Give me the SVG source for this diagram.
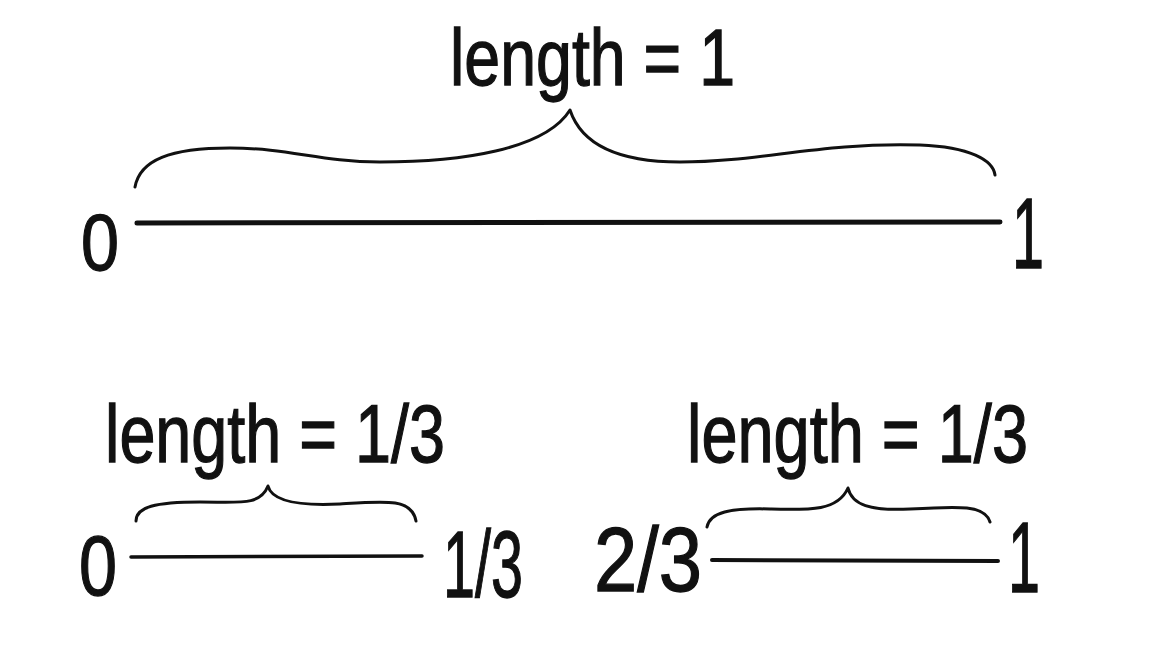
<svg xmlns="http://www.w3.org/2000/svg" width="1152" height="651" viewBox="0 0 1152 651">
<style>
.t{font-family:"Liberation Sans","DejaVu Sans",sans-serif;fill:#111;stroke:#111;stroke-width:1.3;}
.br{fill:none;stroke:#111;stroke-width:3;stroke-linecap:round;stroke-linejoin:round;}
.ln{fill:none;stroke:#111;stroke-linecap:round;}
</style>
<rect width="1152" height="651" fill="#fff"/>
<g id="connectors">
<path class="ln" d="M137,223 L1000,222" stroke-width="5"/>
<path class="ln" d="M131,557 L422,556" stroke-width="3.5"/>
<path class="ln" d="M712,560 L998,561" stroke-width="4"/>
</g>
<g id="top">
<text class="t" x="450" y="85" font-size="80" textLength="285" lengthAdjust="spacingAndGlyphs">length = 1</text>
<path class="br" d="M135,187 C140,160 170,148 230,148 C290,148 320,162 380,162 C460,162 545,150 570,110 C580,140 610,162 680,162 C760,162 820,142 920,145 C970,147 993,160 995,175"/>
<text class="t" x="81" y="270" font-size="80" textLength="38" lengthAdjust="spacingAndGlyphs">0</text>
<text class="t" x="1012" y="268" font-size="100" textLength="32" lengthAdjust="spacingAndGlyphs">1</text>
</g>
<g id="bottom-left">
<text class="t" x="105" y="462" font-size="82" textLength="340" lengthAdjust="spacingAndGlyphs">length = 1/3</text>
<path class="br" d="M136,521 C136,507 155,502 200,502 C240,502 260,506 268,486 C272,502 300,506 340,504 C385,501 412,498 416,521"/>
<text class="t" x="79" y="595" font-size="85" textLength="38" lengthAdjust="spacingAndGlyphs">0</text>
<text class="t" x="443" y="597" font-size="95" textLength="80" lengthAdjust="spacingAndGlyphs">1/3</text>
</g>
<g id="bottom-right">
<text class="t" x="687" y="462" font-size="82" textLength="341" lengthAdjust="spacingAndGlyphs">length = 1/3</text>
<path class="br" d="M707,527 C710,512 730,508 770,509 C810,510 838,511 848,488 C852,505 870,511 910,509 C960,506 985,505 990,522"/>
<text class="t" x="594" y="591" font-size="90" textLength="108" lengthAdjust="spacingAndGlyphs">2/3</text>
<text class="t" x="1008" y="592" font-size="100" textLength="32" lengthAdjust="spacingAndGlyphs">1</text>
</g>
</svg>
